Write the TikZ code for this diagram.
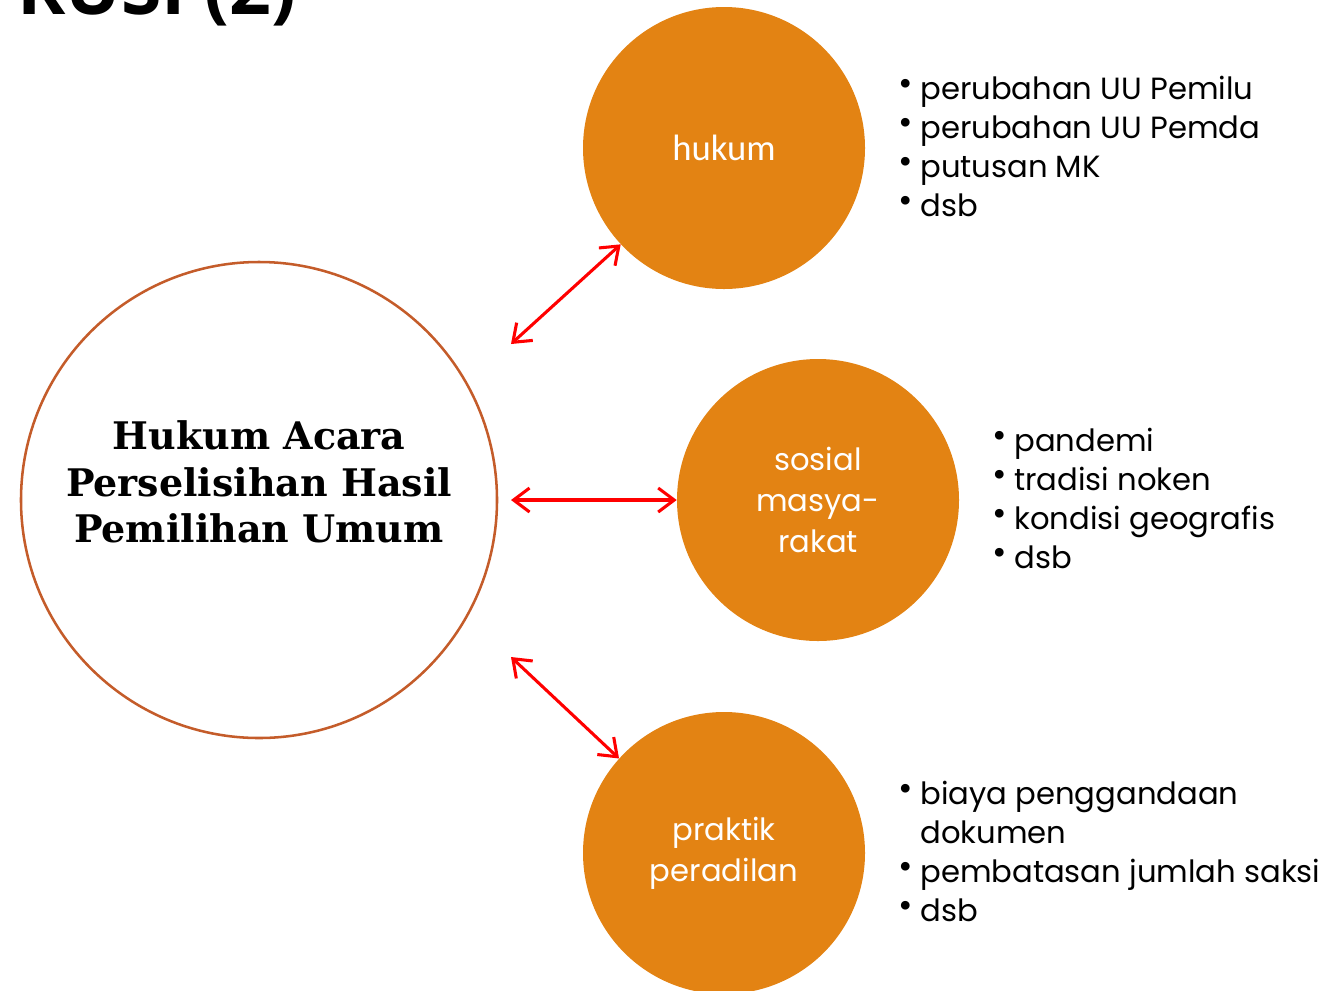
\documentclass[tikz,border=0pt]{standalone}
\usepackage{fontspec}
\usepackage{graphicx}
\usetikzlibrary{arrows.meta}
\newfontfamily\listfont{Poppins}
\newfontfamily\hukumfont{Carlito}
\newfontfamily\centerfont{DejaVu Serif}
\newfontfamily\headfont{Open Sans}
\definecolor{circorange}{RGB}{227,131,19}
\definecolor{rimbrown}{RGB}{196,92,42}
\newcommand{\blt}{\makebox[16.5pt][l]{\raisebox{0.22ex}{\scalebox{1.15}{\textbullet}}}}
\newcommand{\ind}{\makebox[16.5pt][l]{}}

\begin{document}
\begin{tikzpicture}[x=0.75pt,y=0.75pt,yscale=-1,
  topic/.style={circle,fill=circorange,minimum size=211.5pt,inner sep=0pt,
    text=white,align=center},
  topictext/.style={font=\listfont\fontsize{23}{31}\selectfont},
  bullets/.style={anchor=base west,inner sep=0pt,align=left,
    font=\listfont\fontsize{23}{29.25}\selectfont},
  link/.style={draw=red,line width=2.3pt,{Straight Barb[length=12pt,width=18pt]}-{Straight Barb[length=12pt,width=18pt]}}]
\useasboundingbox (0,0) rectangle (1341,990);

% cut-off slide title
\node (title) [anchor=base west,inner sep=0pt,font=\headfont\bfseries\fontsize{55}{66}\selectfont] at (17,14) {RUSI (2)};

% central circle
\node (main) [circle,draw=rimbrown,line width=1.9pt,minimum size=357pt,inner sep=0pt] at (259,500) {};
\node (maintext) [align=center,inner sep=0pt,
  font=\centerfont\bfseries\fontsize{28.5}{35}\selectfont] at (259,482)
  {Hukum Acara\\Perselisihan Hasil\\Pemilihan Umum};

% topic circles
\node (hukum) [topic,font=\hukumfont\fontsize{27.5}{31}\selectfont] at (724,148) {hukum};
\node (sosial) [topic,topictext] at (818,500) {sosial\\masya-\\rakat};
\node (praktik) [topic,topictext] at (724,853) {praktik\\peradilan};

% free arrow ends
\coordinate (hukumend) at (511,344);
\coordinate (sosialend) at (511,500);
\coordinate (praktikend) at (511,657);

\draw [link] (hukumend) -- (hukum.223);
\draw [link] (sosialend) -- (sosial.west);
\draw [link] (praktikend) -- (praktik.138);

% bullet lists (base = last line)
\node (hukumlist) [bullets] at (898,216)
  {\blt perubahan UU Pemilu\\\blt perubahan UU Pemda\\\blt putusan MK\\\blt dsb};
\node (sosiallist) [bullets] at (992,568)
  {\blt pandemi\\\blt tradisi noken\\\blt kondisi geografis\\\blt dsb};
\node (praktiklist) [bullets] at (898,921)
  {\blt biaya penggandaan\\\ind dokumen\\\blt pembatasan jumlah saksi\\\blt dsb};

\end{tikzpicture}
\end{document}
